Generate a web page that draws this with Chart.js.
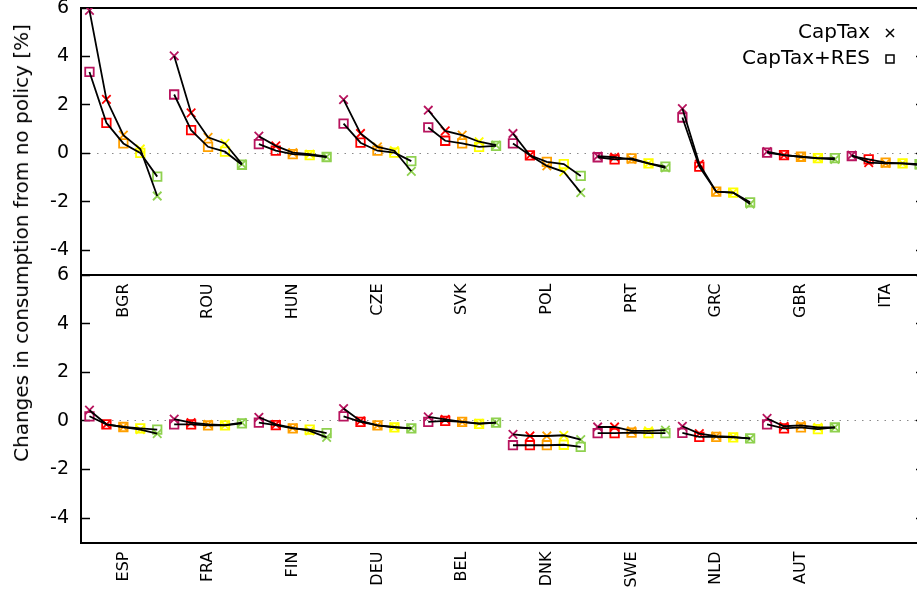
<!DOCTYPE html>
<html>
<head>
<meta charset="utf-8">
<script src="https://cdn.jsdelivr.net/npm/chart.js@4.4.1/dist/chart.umd.min.js"></script>
<style>
  html, body { margin: 0; padding: 0; background: #fff; overflow: hidden; width: 917px; height: 591px; }
  canvas { position: absolute; left: 0; top: 0; }
  #ytitle {
    position: absolute; left: 21px; top: 243px;
    transform: translate(-50%, -50%) rotate(-90deg);
    font: 20px "DejaVu Sans"; white-space: nowrap; color: #000;
  }
</style>
</head>
<body>
<canvas id="topChart" width="936" height="591"></canvas>
<canvas id="bottomChart" width="936" height="591"></canvas>
<canvas id="legendChart" width="440" height="80" style="left:466px; top:17px;"></canvas>
<div id="ytitle">Changes in consumption from no policy [%]</div>
<script>
// countries, 5 steps each
const topCountries = ["BGR", "ROU", "HUN", "CZE", "SVK", "POL", "PRT", "GRC", "GBR", "ITA"];
const bottomCountries = ["ESP", "FRA", "FIN", "DEU", "BEL", "DNK", "SWE", "NLD", "AUT"];

const capTaxTop = [
  5.9, 2.23, 0.75, 0.18, -1.76,
  4.02, 1.67, 0.66, 0.41, -0.44,
  0.71, 0.31, 0.03, -0.03, -0.14,
  2.22, 0.82, 0.27, 0.11, -0.74,
  1.78, 0.93, 0.75, 0.48, 0.34,
  0.82, -0.08, -0.52, -0.76, -1.62,
  -0.11, -0.16, -0.25, -0.41, -0.6,
  1.85, -0.44, -1.58, -1.62, -2.09,
  0.07, -0.07, -0.14, -0.21, -0.25,
  -0.07, -0.38, -0.41, -0.41, -0.48
];
const capTaxResTop = [
  3.36, 1.26, 0.41, 0.02, -0.96,
  2.43, 0.96, 0.27, 0.07, -0.47,
  0.38, 0.11, -0.03, -0.07, -0.15,
  1.23, 0.44, 0.11, 0.03, -0.32,
  1.07, 0.52, 0.41, 0.27, 0.31,
  0.41, -0.08, -0.35, -0.44, -0.93,
  -0.16, -0.25, -0.21, -0.41, -0.55,
  1.48, -0.55, -1.58, -1.62, -2.02,
  0.03, -0.07, -0.14, -0.2, -0.2,
  -0.11, -0.25, -0.38, -0.41, -0.45
];
const capTaxBottom = [
  0.44, -0.14, -0.25, -0.36, -0.52,
  0.07, -0.07, -0.14, -0.17, -0.07,
  0.15, -0.14, -0.29, -0.41, -0.68,
  0.51, 0.0, -0.18, -0.25, -0.31,
  0.17, 0.06, -0.04, -0.1, -0.07,
  -0.55, -0.62, -0.62, -0.59, -0.77,
  -0.25, -0.25, -0.41, -0.41, -0.38,
  -0.22, -0.52, -0.63, -0.66, -0.73,
  0.1, -0.22, -0.18, -0.27, -0.27
];
const capTaxResBottom = [
  0.19, -0.14, -0.25, -0.31, -0.36,
  -0.14, -0.14, -0.18, -0.18, -0.1,
  -0.07, -0.17, -0.31, -0.36, -0.5,
  0.19, -0.04, -0.18, -0.27, -0.31,
  -0.04, 0.0, -0.04, -0.12, -0.07,
  -1.0, -1.0, -1.0, -0.98, -1.07,
  -0.5, -0.5, -0.48, -0.5, -0.5,
  -0.49, -0.66, -0.66, -0.68, -0.72,
  -0.14, -0.31, -0.27, -0.34, -0.27
];

const yTicks = [-4, -2, 0, 2, 4, 6];
const stepColors = ["#b8145e", "#ff0000", "#ffa000", "#ffff00", "#8fd14f"];

const FONT = "DejaVu Sans";

function toPoints(values) {
  return values.map((v, i) => ({ x: i, y: v }));
}

// only join points of the same country
function sameGroup(ctx) {
  return Math.floor(ctx.p0DataIndex / 5) === Math.floor(ctx.p1DataIndex / 5);
}

function makePanel(id, countries, capTax, capTaxRes, areaTop, areaBottom) {
  const lineSet = (label, values) => ({
    label: label,
    data: toPoints(values),
    showLine: true,
    borderColor: "#000",
    borderWidth: 1.8,
    pointRadius: 0,
    order: 0,
    segment: { borderColor: (ctx) => (sameGroup(ctx) ? "#000" : "transparent") }
  });
  const markSet = (label, values, style, r) => ({
    label: label,
    data: toPoints(values),
    showLine: false,
    pointStyle: style,
    pointRadius: r,
    pointBorderWidth: 1.8,
    pointBorderColor: (ctx) => stepColors[ctx.dataIndex % 5],
    pointBackgroundColor: "transparent",
    order: 1
  });
  const setTicks = (axis) => {
    axis.ticks = yTicks.map((v) => ({ value: v }));
  };

  return new Chart(document.getElementById(id), {
    type: "scatter",
    data: {
      datasets: [
        markSet("CapTax", capTax, "crossRot", 6),
        markSet("CapTax+RES", capTaxRes, "rect", 6),
        lineSet("CapTax line", capTax),
        lineSet("CapTax+RES line", capTaxRes)
      ]
    },
    options: {
      responsive: false,
      animation: false,
      events: [],
      layout: { padding: { top: areaTop, left: 0, right: 8, bottom: 0 } },
      plugins: { legend: { display: false }, tooltip: { enabled: false } },
      scales: {
        x: {
          type: "linear",
          position: "bottom",
          min: -0.5,
          max: 49.5,
          afterBuildTicks: (axis) => {
            axis.ticks = countries.map((c, i) => ({ value: i * 5 + 2 }));
          },
          afterFit: (axis) => {
            axis.height = 591 - areaBottom;
            axis.paddingLeft = 0;
            axis.paddingRight = 0;
          },
          ticks: {
            callback: (v, i) => countries[i],
            autoSkip: false,
            maxRotation: 90,
            minRotation: 90,
            padding: 9,
            color: "#000",
            font: { family: FONT, size: 16 }
          },
          grid: { display: false, drawTicks: false },
          border: { display: true, color: "#000", width: 2 }
        },
        xTop: {
          type: "linear",
          position: "top",
          min: -0.5,
          max: 49.5,
          afterFit: (axis) => { axis.height = 0; },
          ticks: { display: false },
          grid: { display: false, drawTicks: false },
          border: { display: true, color: "#000", width: 2 }
        },
        y: {
          min: -5,
          max: 6,
          afterBuildTicks: setTicks,
          afterFit: (axis) => {
            axis.width = 81;
            axis.paddingTop = 0;
            axis.paddingBottom = 0;
          },
          ticks: { padding: 21, color: "#000", font: { family: FONT, size: 19 } },
          grid: {
            drawTicks: true,
            tickLength: -9,
            tickColor: "#000",
            tickWidth: 1.5,
            lineWidth: 1,
            color: (ctx) => (ctx.tick && ctx.tick.value === 0 ? "#8a8a8a" : "transparent")
          },
          border: { display: true, color: "#000", width: 2, dash: [1.5, 6] }
        },
        yRight: {
          position: "right",
          min: -5,
          max: 6,
          afterBuildTicks: setTicks,
          afterFit: (axis) => {
            axis.width = 0;
            axis.paddingTop = 0;
            axis.paddingBottom = 0;
          },
          ticks: { display: false },
          grid: { drawOnChartArea: false, drawTicks: true, tickLength: -12, tickColor: "#000", tickWidth: 1.5 },
          border: { display: true, color: "#000", width: 2 }
        }
      }
    }
  });
}

makePanel("topChart", topCountries, capTaxTop, capTaxResTop, 8, 274.5);
makePanel("bottomChart", bottomCountries, capTaxBottom, capTaxResBottom, 275, 542.5);

// legend: text on the left, black marker on the right
new Chart(document.getElementById("legendChart"), {
  type: "scatter",
  data: {
    datasets: [
      { label: "CapTax", data: [], pointStyle: "crossRot" },
      { label: "CapTax+RES", data: [], pointStyle: "rect" }
    ]
  },
  options: {
    responsive: false,
    animation: false,
    events: [],
    scales: { x: { display: false }, y: { display: false } },
    plugins: {
      tooltip: { enabled: false },
      legend: {
        position: "right",
        align: "start",
        rtl: true,
        labels: {
          usePointStyle: true,
          boxWidth: 20,
          boxHeight: 8,
          padding: 6,
          color: "#000",
          font: { family: FONT, size: 20 },
          generateLabels: (chart) =>
            chart.data.datasets.map((ds, i) => ({
              text: ds.label,
              pointStyle: ds.pointStyle,
              strokeStyle: "#000",
              fillStyle: "transparent",
              lineWidth: 1.5,
              fontColor: "#000",
              hidden: false,
              datasetIndex: i
            }))
        }
      }
    }
  }
});
</script>
</body>
</html>
